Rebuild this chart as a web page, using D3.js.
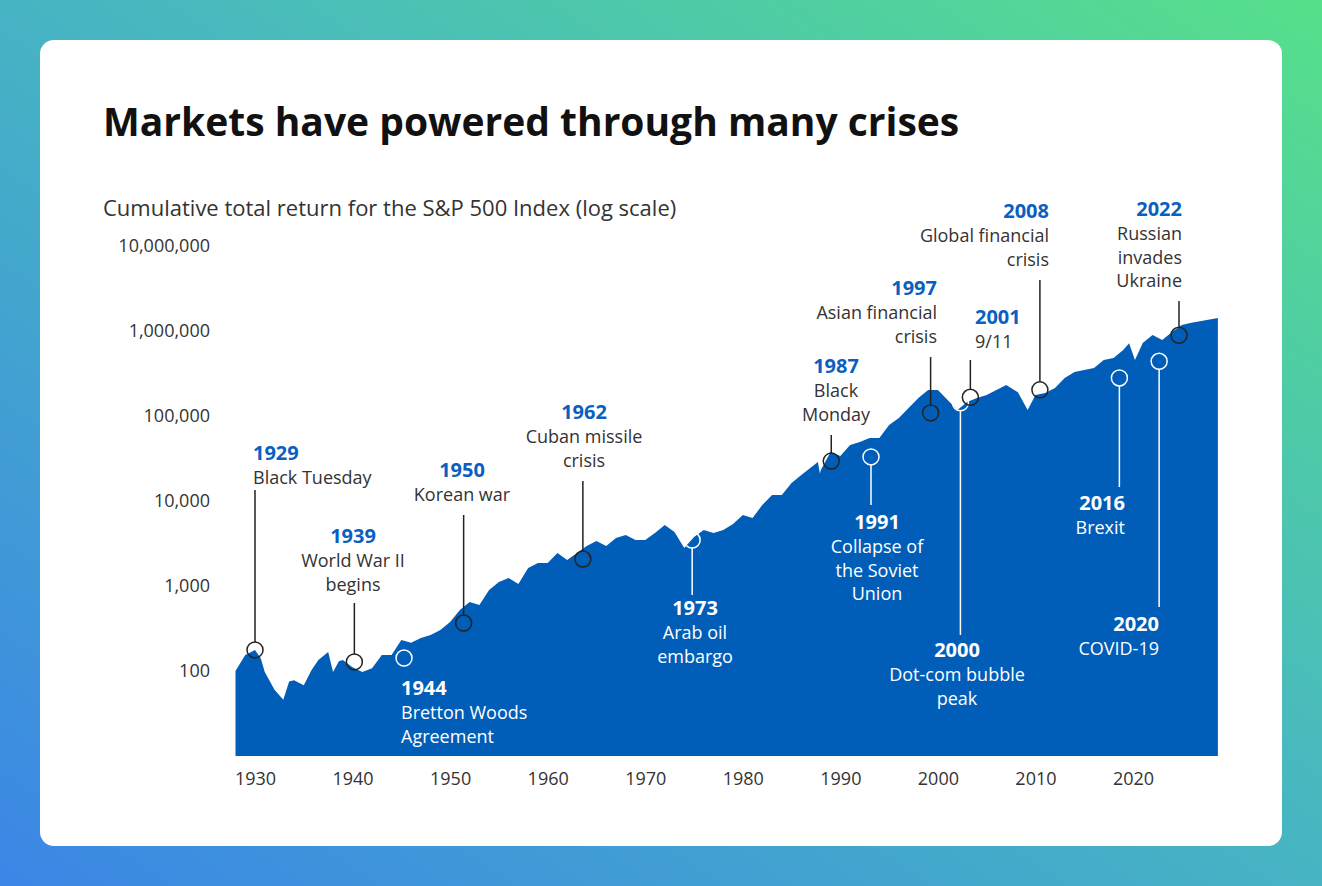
<!DOCTYPE html>
<html><head><meta charset="utf-8">
<script src="https://cdn.jsdelivr.net/npm/d3@7"></script>
<style>body{margin:0;overflow:hidden}text{font-family:"Open Sans",sans-serif}</style>
</head><body><svg width="1322" height="886"></svg>
<script>
window.onload = function() {
	var svg = d3.select("svg");
	var defs = svg.append("defs");
	var g = defs.append("linearGradient").attr("id", "bg")
		.attr("x1", "0").attr("y1", "1").attr("x2", "1").attr("y2", "0");
	g.append("stop").attr("offset", "0").attr("stop-color", "#3b86e6");
	g.append("stop").attr("offset", "0.55").attr("stop-color", "#48b8c0");
	g.append("stop").attr("offset", "1").attr("stop-color", "#56e08a");
	svg.append("rect").attr("width", 1322).attr("height", 886).attr("fill", "url(#bg)");
	svg.append("rect").attr("x", 40).attr("y", 40).attr("width", 1242).attr("height", 806)
		.attr("rx", 14).attr("fill", "#fff");

	svg.append("text").attr("x", 103).attr("y", 136).attr("font-size", 39).attr("font-weight", 700)
		.attr("fill", "#111").attr("font-family", "Lato").text("Markets have powered through many crises");
	svg.append("text").attr("x", 103).attr("y", 216).attr("font-size", 22).attr("fill", "#333")
		.text("Cumulative total return for the S&P 500 Index (log scale)");

	// [year, value]
	var data = [[1928,100],[1929,154],[1930,177],[1930.6,140],[1931,97],[1932,60],[1932.9,46],[1933.5,75],
		[1934,78],[1935,68],[1935.8,103],[1936.5,135],[1937.5,167],[1938,97],[1938.6,130],[1939,135],
		[1940,111],[1941,97],[1942,108],[1943,154],[1944,154],[1945,232],[1946,215],[1947,244],[1948,265],
		[1949,304],[1950,377],[1951,522],[1952,648],[1953,598],[1954,898],[1955,1114],[1956,1242],
		[1957,1056],[1958,1629],[1959,1866],[1960,1866],[1961,2443],[1962,2023],[1963,2443],[1964,2958],
		[1965,3383],[1966,2958],[1967,3673],[1968,3981],[1969,3475],[1970,3475],[1971,4207],[1972,5224],
		[1973,4315],[1974,2800],[1975,3767],[1976,4560],[1977,4207],[1978,4560],[1979,5360],[1980,6842],
		[1981,6310],[1982,8977],[1983,11770],[1984,11770],[1985,16290],[1986,20230],[1987.7,28770],
		[1987.9,21000],[1988,23170],[1989,37670],[1990,33830],[1991,45600],[1992,49430],[1993,55080],
		[1994,55080],[1995,78340],[1996,94640],[1997,124200],[1998,162900],[1999,202300],[2000,202300],
		[2001,154200],[2002,117700],[2003,146200],[2004,162900],[2005,176600],[2006,202300],[2007,231700],
		[2008.2,190000],[2009.2,117700],[2010,176600],[2011,186600],[2012,213300],[2013,279900],
		[2014,329600],[2015,347500],[2016,367300],[2017,456000],[2018,481000],[2019,597000],
		[2019.6,720000],[2020.2,456000],[2021,722000],[2022,897000],[2023,783000],[2024,973000],
		[2025,1177000],[2026,1250000],[2028.7,1423000]];

	var x = d3.scaleLinear().domain([1930, 2020]).range([255, 1133]);
	var evX = d3.scaleLinear().domain([1929, 2022]).range([255, 1179]);
	var y = d3.scaleLog().domain([10, 1e7]).range([756, 246]);

	svg.append("path").datum(data).attr("fill", "#005eb8")
		.attr("d", d3.area().x(function(d) { return x(d[0]); }).y0(756).y1(function(d) { return y(d[1]); }));

	var yAxis = svg.append("g").attr("transform", "translate(213,0)")
		.call(d3.axisLeft(y).tickValues([100, 1000, 1e4, 1e5, 1e6, 1e7]).tickSize(0).tickFormat(d3.format(",")));
	var xAxis = svg.append("g").attr("transform", "translate(0,766)")
		.call(d3.axisBottom(x).tickValues(d3.range(1930, 2021, 10)).tickSize(0).tickFormat(d3.format("d")));
	[yAxis, xAxis].forEach(function(a) {
		a.select(".domain").remove();
		a.selectAll("text").attr("font-size", 18).attr("fill", "#333").attr("font-family", "Open Sans");
	});
	xAxis.selectAll("text").attr("dy", "0.9em");

	// year, circle value, label x, anchor, year baseline, lines, white?, leader end y
	var events = [
		["1929", 1929, 177, 253, "start", 460, ["Black Tuesday"], false, 490],
		["1939", 1939, 128, 353, "middle", 543, ["World War II", "begins"], false, 603],
		["1944", 1944, 142, 401, "start", 695, ["Bretton Woods", "Agreement"], true, null],
		["1950", 1950, 367, 462, "middle", 477, ["Korean war"], false, 515],
		["1962", 1962, 2076, 584, "middle", 419, ["Cuban missile", "crisis"], false, 481],
		["1973", 1973, 3475, 695, "middle", 615, ["Arab oil", "embargo"], true, 595],
		["1987", 1987, 29500, 836, "middle", 373, ["Black", "Monday"], false, 435],
		["1991", 1991, 33000, 877, "middle", 529, ["Collapse of", "the Soviet", "Union"], true, 505],
		["1997", 1997, 108800, 937, "end", 295, ["Asian financial", "crisis"], false, 357],
		["2000", 2000, 143000, 957, "middle", 657, ["Dot-com bubble", "peak"], true, 635],
		["2001", 2001, 166000, 975, "start", 324, ["9/11"], false, 360],
		["2008", 2008, 203000, 1049, "end", 218, ["Global financial", "crisis"], false, 280],
		["2016", 2016, 280000, 1125, "end", 510, ["Brexit"], true, 487],
		["2020", 2020, 440000, 1159, "end", 631, ["COVID-19"], true, 607],
		["2022", 2022, 890000, 1182, "end", 216, ["Russian", "invades", "Ukraine"], false, 301]
	];

	var ev = svg.selectAll("g.ev").data(events).enter().append("g").attr("class", "ev");
	ev.filter(function(d) { return d[8] !== null; }).append("line")
		.attr("x1", function(d) { return evX(d[1]); }).attr("x2", function(d) { return evX(d[1]); })
		.attr("y1", function(d) { return d[8]; })
		.attr("y2", function(d) { var cy = y(d[2]); return d[8] < cy ? cy - 8 : cy + 8; })
		.attr("stroke", function(d) { return d[7] ? "#fff" : "#222"; }).attr("stroke-width", 1.5);
	ev.append("circle").attr("cx", function(d) { return evX(d[1]); }).attr("cy", function(d) { return y(d[2]); })
		.attr("r", 8).attr("fill", "none").attr("stroke-width", 1.5)
		.attr("stroke", function(d) { return d[7] ? "#fff" : "#222"; });
	ev.append("text").attr("x", function(d) { return d[3]; }).attr("y", function(d) { return d[5]; })
		.attr("text-anchor", function(d) { return d[4]; }).attr("font-size", 20).attr("font-weight", 700)
		.attr("fill", function(d) { return d[7] ? "#fff" : "#0a5fc0"; }).text(function(d) { return d[0]; });
	ev.each(function(d) {
		d3.select(this).selectAll("text.l").data(d[6]).enter().append("text").attr("class", "l")
			.attr("x", d[3]).attr("y", function(t, i) { return d[5] + 24 + i * 23.5; })
			.attr("text-anchor", d[4]).attr("font-size", 18)
			.attr("fill", d[7] ? "#fff" : "#333").text(function(t) { return t; });
	});
};
</script></body></html>
